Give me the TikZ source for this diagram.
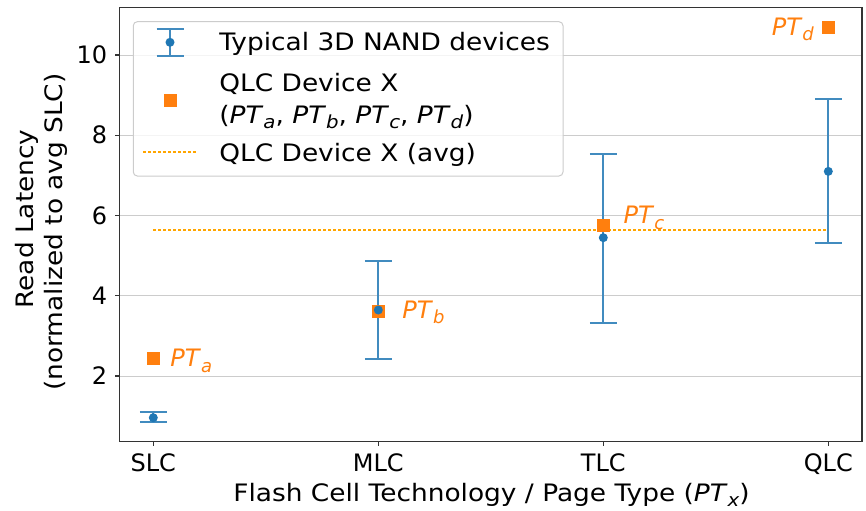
\documentclass[tikz,border=0pt]{standalone}
\usepackage{fontspec}
\setmainfont{DejaVu Sans}
\newfontfamily\widefont{DejaVu Sans}[FakeStretch=1.1]
\usetikzlibrary{positioning}

\definecolor{tabblue}{HTML}{1F77B4}
\definecolor{taborange}{HTML}{FF7F0E}
\definecolor{avgorange}{HTML}{FFA500}

\newcommand{\ptx}[1]{\textit{PT}\raisebox{-2.8pt}{\fontsize{9}{10}\selectfont\itshape #1}}

\tikzset{
  spine/.style={black!80, line width=0.6pt},
  gridline/.style={black!20, line width=0.5pt},
  ebar/.style={tabblue!85!white, line width=1pt},
  avgline/.style={avgorange, line width=1pt, dash pattern=on 1.3pt off 1.2pt},
  qlcsq/.style={fill=taborange, inner sep=0pt, minimum size=6.5pt},
  ptlabel/.style={taborange, inner sep=0pt, anchor=base west},
  txt/.style={inner sep=0pt},
  widetxt/.style={inner sep=0pt, font=\widefont\fontsize{12}{15}\selectfont}
}

\begin{document}
\begin{tikzpicture}[x=0.5pt, y=-0.5pt, font=\fontsize{12}{15}\selectfont]
\useasboundingbox (0,0) rectangle (866,510);

% data part
\begin{scope}[shift={(153.3,456.25)}, x=112.5pt, y=20.0625pt]
% grid
\foreach \v in {2,4,...,10}
  \draw[gridline] (-0.15,\v) -- (3.15,\v);
% average of device X
\draw[avgline] (0,5.65) -- (3,5.65);
% error bars
\foreach \x/\lo/\hi in {0/0.861/1.095, 1/2.424/4.874, 2/3.313/7.525, 3/5.307/8.896} {
  \draw[ebar] (\x,\lo) -- (\x,\hi);
  \draw[ebar] ([xshift=-6.75pt]\x,\lo) -- ([xshift=6.75pt]\x,\lo);
  \draw[ebar] ([xshift=-6.75pt]\x,\hi) -- ([xshift=6.75pt]\x,\hi);
}
% device X page types
\node[qlcsq] (pta) at (0,2.441) {};
\node[qlcsq] (ptb) at (1,3.603) {};
\node[qlcsq] (ptc) at (2,5.763) {};
\node[qlcsq] (ptd) at (3,10.69) {};
\node[ptlabel] (labela) at ([shift={(8.35pt,-4.25pt)}]pta.center) {\ptx{a}};
\node[ptlabel] (labelb) at ([shift={(11.85pt,-3.3pt)}]ptb.center) {\ptx{b}};
\node[ptlabel] (labelc) at ([shift={(10pt,0.7pt)}]ptc.center) {\ptx{c}};
\node[ptlabel, anchor=base east] (labeld) at ([shift={(-7pt,-3.85pt)}]ptd.center) {\ptx{d}};
% means
\foreach \x/\m in {0/0.961, 1/3.645, 2/5.447, 3/7.10}
  \fill[tabblue] (\x,\m) circle (2.25pt);
% axes
\draw[spine] (-0.15,0.37) rectangle (3.15,11.18);
\foreach \v in {2,4,...,10} {
  \draw[spine] (-0.15,\v) -- ++(-2.5pt,0);
  \node[txt, anchor=east] (ytick\v) at ([xshift=-6pt]-0.15,\v) {\v};
}
\foreach \x/\t in {0/SLC, 1/MLC, 2/TLC, 3/QLC} {
  \draw[spine] (\x,0.37) -- ++(0,-2.5pt);
  \node[txt, anchor=base] (xtick\x) at ([yshift=-14.8pt]\x,0.37) {\t};
}
\end{scope}

% axis labels
\node[widetxt, anchor=base] (xlabel) at (491.5,501) {Flash Cell Technology / Page Type (\ptx{x})};
\node[widetxt, rotate=90, anchor=base] (ylabel) at (33,219) {Read Latency};
\node[widetxt, rotate=90, anchor=base] (ylabelb) at (62,232) {(normalized to avg SLC)};

% legend
\draw[black!20, fill=white, fill opacity=0.8, rounded corners=2pt, line width=0.5pt]
  (133.3,21.7) rectangle (563,176);
\draw[ebar] (170,29.3) -- (170,55.7);
\draw[ebar] (156.5,29.3) -- (183.5,29.3);
\draw[ebar] (156.5,55.7) -- (183.5,55.7);
\fill[tabblue] (170,42.3) circle (2.25pt);
\node[widetxt, anchor=base west] (leg1) at (219,50.5) {Typical 3D NAND devices};
\node[qlcsq] (legsq) at (170,100) {};
\node[widetxt, anchor=base west] (leg2) at (219,91.7) {QLC Device X};
\node[widetxt, anchor=base west] (leg2b) at (219,123.3) {(\ptx{a}, \ptx{b}, \ptx{c}, \ptx{d})};
\draw[avgline] (143,152) -- (197,152);
\node[widetxt, anchor=base west] (leg3) at (219,161.7) {QLC Device X (avg)};

\end{tikzpicture}
\end{document}
